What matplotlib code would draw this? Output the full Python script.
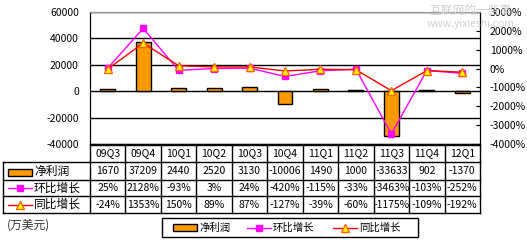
import numpy as np
import matplotlib.pyplot as plt
from matplotlib.transforms import blended_transform_factory
from matplotlib.lines import Line2D
from matplotlib.patches import Rectangle

plt.rcParams['font.family'] = ['Noto Sans CJK SC', 'DejaVu Sans']

# data (万美元 / %)
quarters = ['09Q3', '09Q4', '10Q1', '10Q2', '10Q3', '10Q4', '11Q1', '11Q2', '11Q3', '11Q4', '12Q1']
profit = [1670, 37209, 2440, 2520, 3130, -10006, 1490, 1000, -33633, 902, -1370]
qoq = [25, 2128, -93, 3, 24, -420, -115, -33, -3463, -103, -252]
yoy = [-24, 1353, 150, 89, 87, -127, -39, -60, -1175, -109, -192]
row_names = ['净利润', '环比增长', '同比增长']

ORANGE = '#FF9900'
MAGENTA = '#FF00FF'
RED = '#FF0000'
YELLOW = '#FFFF00'

W, H = 527, 242
fig = plt.figure(figsize=(W / 100, H / 100), dpi=100)
ax = fig.add_axes([90 / W, 1 - 144 / H, 390 / W, 132 / H])
x = np.arange(len(quarters))

ax.bar(x, profit, width=0.42, color=ORANGE, edgecolor='black', linewidth=1, zorder=2)
ax.set_xlim(-0.5, len(quarters) - 0.5)
ax.set_ylim(-40000, 60000)
lt = np.arange(-40000, 60001, 20000)
ax.set_yticks(lt)
ax.set_yticklabels([str(v) for v in lt], fontsize=7.5)
ax.tick_params(axis='y', length=0, pad=8)
ax.set_xticks([])
ax.grid(axis='y', color='black', linewidth=1)
ax.spines['top'].set_color('#999999')
for s in ['left', 'right', 'bottom']:
    ax.spines[s].set_color('black')

ax2 = ax.twinx()
ax2.plot(x, qoq, color=MAGENTA, lw=1, marker='s', ms=5, mfc=MAGENTA, mec=MAGENTA, zorder=3)
ax2.plot(x, yoy, color=RED, lw=1, marker='^', ms=6, mfc=YELLOW, mec='#FF6600', zorder=4)
ax2.set_ylim(-4000, 3000)
rt = np.arange(-4000, 3001, 1000)
ax2.set_yticks(rt)
ax2.set_yticklabels([f'{v}%' for v in rt], fontsize=7.5)
ax2.tick_params(axis='y', direction='in', length=3, pad=7)
ax2.spines['top'].set_color('#999999')
ax2.spines['right'].set_color('black')

# overlay in pixel coordinates for the table and legend
ov = fig.add_axes([0, 0, 1, 1])
ov.set_xlim(0, W)
ov.set_ylim(H, 0)
ov.axis('off')
ov.patch.set_alpha(0)
tr = blended_transform_factory(ax.transData, ov.transData)

rows_y = [145, 162, 180, 196, 213]
x0, x1 = -0.5, len(quarters) - 0.5
ov.plot([x0, x1], [rows_y[0]] * 2, color='black', lw=1, transform=tr, clip_on=False)
for yy in rows_y[1:]:
    ov.plot([3, 480], [yy, yy], color='black', lw=1, clip_on=False)
ov.plot([3, 3], [rows_y[1], rows_y[-1]], color='black', lw=1, clip_on=False)
for k in range(len(quarters) + 1):
    ov.plot([k - 0.5, k - 0.5], [rows_y[0], rows_y[-1]], color='black', lw=1,
            transform=tr, clip_on=False)

cells = [quarters, [str(v) for v in profit], [f'{v}%' for v in qoq], [f'{v}%' for v in yoy]]
for r, vals in enumerate(cells):
    yc = (rows_y[r] + rows_y[r + 1]) / 2
    for i, s in enumerate(vals):
        ov.text(i, yc, s, transform=tr, ha='center', va='center', fontsize=7.5, clip_on=False)

# row labels with symbols
for r, name in enumerate(row_names):
    yc = (rows_y[r + 1] + rows_y[r + 2]) / 2
    ov.text(34, yc, name, ha='left', va='center', fontsize=8.5)
ov.add_patch(Rectangle((8, 168.5), 24, 7, facecolor=ORANGE, edgecolor='black', lw=1))
ov.add_line(Line2D([8, 20, 32], [188] * 3, color=MAGENTA, lw=1, marker='s', ms=5,
                   markevery=[1], mfc=MAGENTA, mec=MAGENTA))
ov.add_line(Line2D([8, 20, 32], [204.5] * 3, color=RED, lw=1, marker='^', ms=6,
                   markevery=[1], mfc=YELLOW, mec='#FF6600'))

ov.text(7, 225, '(万美元)', ha='left', va='center', fontsize=8.5, color='#333333')

# legend
ov.add_patch(Rectangle((162, 218), 256, 19, facecolor='none', edgecolor='black', lw=1))
ov.add_patch(Rectangle((173, 224), 24, 7, facecolor=ORANGE, edgecolor='black', lw=1))
ov.text(199, 227.5, row_names[0], ha='left', va='center', fontsize=7.5)
ov.add_line(Line2D([247, 259, 271], [227.5] * 3, color=MAGENTA, lw=1, marker='s', ms=5,
                   markevery=[1], mfc=MAGENTA, mec=MAGENTA))
ov.text(273, 227.5, row_names[1], ha='left', va='center', fontsize=7.5)
ov.add_line(Line2D([333, 345, 357], [227.5] * 3, color=RED, lw=1, marker='^', ms=6,
                   markevery=[1], mfc=YELLOW, mec='#FF6600'))
ov.text(359, 227.5, row_names[2], ha='left', va='center', fontsize=7.5)

# watermark
ov.text(470, 10, '互联网的一些事', ha='center', va='center', fontsize=8.5, color='#d0d0d0')
ov.text(471, 24, 'www.yixieshi.com', ha='center', va='center', fontsize=7.5, color='#d0d0d0')

fig.savefig('out.png', dpi=100)
